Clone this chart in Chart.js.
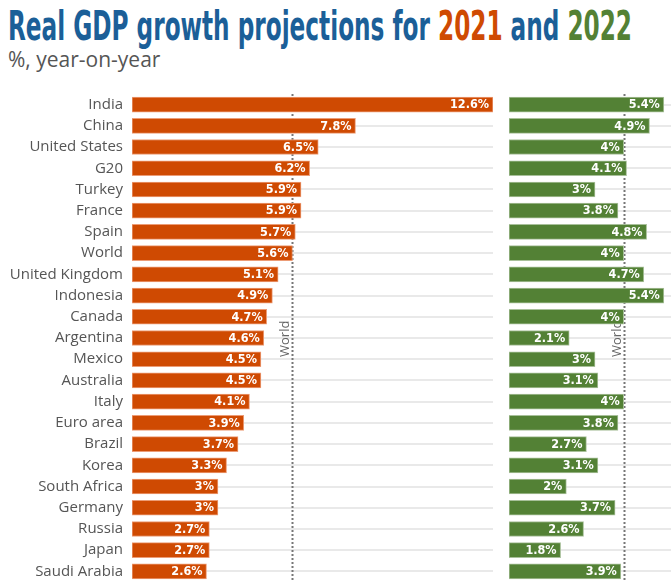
<!DOCTYPE html>
<html><head><meta charset="utf-8">
<script src="https://cdn.jsdelivr.net/npm/chart.js@4"></script>
<style>
html,body{margin:0;padding:0;background:#fff;width:671px;height:587px;overflow:hidden;position:relative;}
#title{position:absolute;left:8px;top:3px;white-space:nowrap;font-family:"DejaVu Sans Condensed",sans-serif;font-weight:bold;font-size:40px;color:#1b5f98;transform-origin:0 0;}
#sub{position:absolute;left:8px;top:45px;font-family:"Open Sans",sans-serif;font-size:21px;color:#555;}
#c1wrap{position:absolute;left:0;top:94px;width:500px;height:488px;}
#c2wrap{position:absolute;left:500px;top:94px;width:171px;height:488px;}
</style></head>
<body>
<div id="title"><span>Real GDP growth projections for </span><span style="color:#cf4a02">2021</span><span> and </span><span style="color:#538135">2022</span></div>
<div id="sub">%, year-on-year</div>
<div id="c1wrap"><canvas id="c1"></canvas></div>
<div id="c2wrap"><canvas id="c2"></canvas></div>
<script>
const categories = ["India","China","United States","G20","Turkey","France","Spain","World","United Kingdom","Indonesia","Canada","Argentina","Mexico","Australia","Italy","Euro area","Brazil","Korea","South Africa","Germany","Russia","Japan","Saudi Arabia"];
const growth2021 = [12.6,7.8,6.5,6.2,5.9,5.9,5.7,5.6,5.1,4.9,4.7,4.6,4.5,4.5,4.1,3.9,3.7,3.3,3,3,2.7,2.7,2.6];
const growth2022 = [5.4,4.9,4,4.1,3,3.8,4.8,4,4.7,5.4,4,2.1,3,3.1,4,3.8,2.7,3.1,2,3.7,2.6,1.8,3.9];
const world2021 = 5.6;
const world2022 = 4;

// fit title width
const t = document.getElementById('title');
const w = t.getBoundingClientRect().width;
t.style.transform = 'scaleX(' + (624 / w) + ')';

const worldPlugin = {
  id: 'worldLine',
  beforeDatasetsDraw(chart, args, opts) {
    const ctx = chart.ctx, a = chart.chartArea;
    const x = Math.round(chart.scales.x.getPixelForValue(opts.value)) + 0.5;
    ctx.save();
    ctx.strokeStyle = '#777';
    ctx.lineWidth = 2;
    ctx.setLineDash([2, 2]);
    ctx.beginPath();
    ctx.moveTo(x, a.top);
    ctx.lineTo(x, a.bottom);
    ctx.stroke();
    ctx.setLineDash([]);
    ctx.translate(x - 4, 357 - 94);
    ctx.rotate(-Math.PI / 2);
    ctx.fillStyle = '#666';
    ctx.font = '13px "Open Sans"';
    ctx.textAlign = 'left';
    ctx.textBaseline = 'alphabetic';
    ctx.fillText('World', 0, 0);
    ctx.restore();
  }
};

const labelPlugin = {
  id: 'barLabels',
  afterDatasetsDraw(chart) {
    const ctx = chart.ctx;
    const meta = chart.getDatasetMeta(0);
    const data = chart.data.datasets[0].data;
    ctx.save();
    ctx.fillStyle = '#fff';
    ctx.font = 'bold 12.5px "DejaVu Sans Condensed"';
    ctx.textAlign = 'right';
    ctx.textBaseline = 'middle';
    meta.data.forEach((bar, i) => {
      ctx.fillText(data[i] + '%', bar.x - 4, bar.y + 0.5);
    });
    ctx.restore();
  }
};

function makeChart(id, values, color, border, max, world, showLabels, padLeft, padRight) {
  return new Chart(document.getElementById(id), {
    type: 'bar',
    data: {
      labels: categories,
      datasets: [{
        data: values,
        backgroundColor: color,
        borderColor: border,
        borderWidth: 1,
        borderSkipped: false,
        barThickness: 15
      }]
    },
    options: {
      indexAxis: 'y',
      responsive: true,
      maintainAspectRatio: false,
      animation: false,
      layout: { padding: { left: padLeft, right: padRight, top: 0, bottom: 0 } },
      plugins: {
        legend: { display: false },
        tooltip: { enabled: false },
        worldLine: { value: world }
      },
      scales: {
        x: { display: false, min: 0, max: max },
        y: {
          display: true,
          grid: { color: '#e9e9e9', lineWidth: 2, offset: false, drawTicks: false },
          border: { display: false },
          afterFit(scale) {
            scale.width = showLabels ? 132 : 0;
            scale.paddingTop = 0;
            scale.paddingBottom = 0;
          },
          ticks: {
            display: showLabels,
            padding: 9,
            color: '#555',
            font: { family: 'Open Sans', size: 15 }
          }
        }
      }
    },
    plugins: [worldPlugin, labelPlugin]
  });
}

makeChart('c1', growth2021, '#cf4a02', '#ec9c76', 12.6, world2021, true, 0, 7);
makeChart('c2', growth2022, '#538135', '#a8c09a', 5.65, world2022, false, 9, 0);
</script>
</body></html>
